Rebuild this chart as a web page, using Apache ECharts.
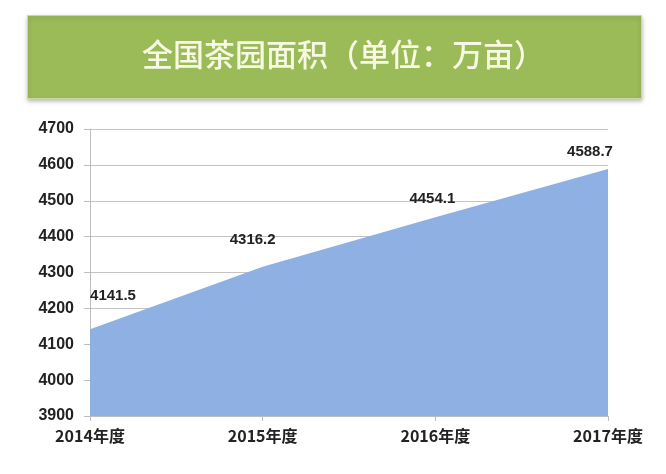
<!DOCTYPE html>
<html>
<head>
<meta charset="utf-8">
<script src="https://cdn.jsdelivr.net/npm/echarts@6/dist/echarts.min.js"></script>
<style>
  html, body { margin: 0; padding: 0; background: #ffffff; }
  #chart { width: 666px; height: 474px; }
</style>
</head>
<body>
<div id="chart"></div>
<script>
// Tea garden area, 2014–2017 (unit: 10k mu)
const years = ['2014年度', '2015年度', '2016年度', '2017年度'];
const area = [4141.5, 4316.2, 4454.1, 4588.7];
const titleText = '全国茶园面积（单位：万亩）';

// Label nudges [dx, dy] per point, in pixels
const labelShift = [[23, -19], [-10, -12], [-3, -4], [-18, -3]];

const chart = echarts.init(document.getElementById('chart'), null, { renderer: 'canvas' });

chart.setOption({
  backgroundColor: '#ffffff',
  animation: false,
  graphic: [
    {
      type: 'rect',
      left: 27, top: 15,
      shape: { width: 614, height: 83 },
      style: {
        fill: '#9bbb59',
        stroke: '#c9d99f',
        lineWidth: 1,
        shadowBlur: 4,
        shadowColor: 'rgba(0,0,0,0.25)',
        shadowOffsetY: 2
      }
    },
    {
      type: 'text',
      left: 142, top: 39,
      style: {
        text: titleText,
        fill: '#f7f9e3',
        font: '500 31px "Noto Sans CJK SC"'
      }
    }
  ],
  grid: { left: 90, right: 58, top: 129, bottom: 58, containLabel: false },
  xAxis: {
    type: 'category',
    data: years,
    boundaryGap: false,
    axisLine: { lineStyle: { color: '#bdbdbd' } },
    axisTick: { alignWithLabel: true, length: 5, lineStyle: { color: '#bdbdbd' } },
    axisLabel: {
      color: '#222', fontWeight: 'bold', fontSize: 16, margin: 12,
      fontFamily: '"Noto Sans CJK SC", sans-serif',
      align: 'center'
    }
  },
  yAxis: {
    type: 'value',
    min: 3900, max: 4700, interval: 100,
    axisLine: { show: true, lineStyle: { color: '#bdbdbd' } },
    axisTick: { show: true, length: 6, lineStyle: { color: '#bdbdbd' } },
    splitLine: { lineStyle: { color: '#c4c4c4' } },
    axisLabel: {
      color: '#222', fontWeight: 'bold', fontSize: 16, margin: 16,
      fontFamily: 'Liberation Sans, Arial, sans-serif',
      formatter: v => String(v)
    }
  },
  series: [{
    type: 'line',
    data: area.map((v, i) => ({
      value: v,
      label: { offset: labelShift[i] }
    })),
    symbol: 'circle',
    symbolSize: 2,
    showSymbol: true,
    itemStyle: { color: 'rgba(0,0,0,0)', borderWidth: 0 },
    lineStyle: { width: 0, color: '#8eb0e3' },
    areaStyle: { color: '#8eb0e3', opacity: 1, origin: 'start' },
    label: {
      show: true,
      position: 'top',
      distance: 6,
      color: '#222',
      fontWeight: 'bold',
      fontSize: 15,
      fontFamily: 'Liberation Sans, Arial, sans-serif',
      formatter: p => p.value.toFixed(1)
    }
  }]
});
</script>
</body>
</html>
